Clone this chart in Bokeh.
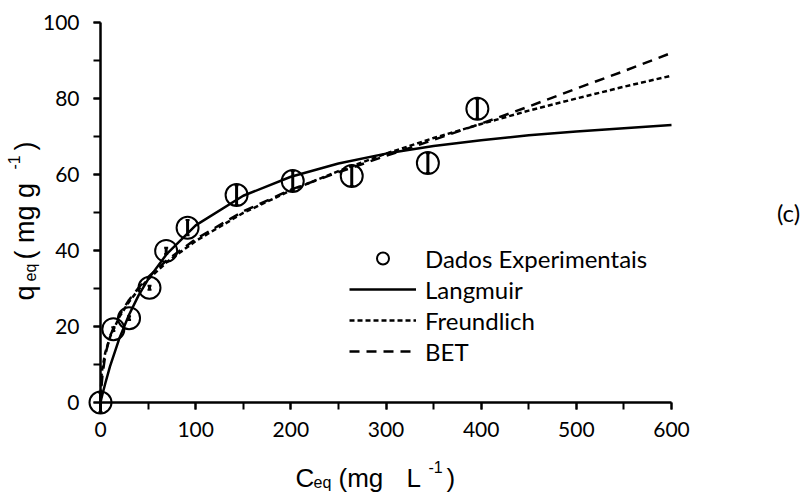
import math
from bokeh.plotting import figure
from bokeh.models import (Range1d, Legend, LegendItem, Label, Whisker, ColumnDataSource,
                          SingleIntervalTicker, TeeHead)
from bokeh.embed import file_html
from bokeh.resources import INLINE

# ---------------- data ----------------
ceq = [0, 13.5, 30, 51.5, 69, 91.5, 143, 202, 264, 344, 396]
qeq = [0, 19.3, 22.2, 30.2, 39.9, 46.0, 54.6, 58.3, 59.6, 63.0, 77.3]
qerr = [2.5, 0.5, 0.5, 0.5, 0.8, 2.0, 2.6, 2.6, 2.6, 2.6, 2.6]

curve_c = [0, 1, 2, 5, 10, 20, 30, 40, 50, 70, 100, 150, 200, 250, 300, 350, 400, 450, 500, 550, 600]
langmuir = [0, 1.1, 2.1, 5.0, 9.5, 17.0, 23.1, 28.2, 32.4, 39.2, 46.6, 54.4, 59.4, 62.9, 65.5,
            67.5, 69.0, 70.3, 71.3, 72.2, 73.0]
freundlich = [0, 7.0, 9.1, 13.1, 17.2, 22.6, 26.5, 29.7, 32.4, 37.0, 42.5, 49.9, 55.8, 60.9, 65.5,
              69.6, 73.3, 76.8, 80.0, 83.1, 86.0]
bet = [0, 4.0, 7.0, 12.5, 17.5, 23.0, 27.0, 30.2, 33.0, 37.5, 43.0, 50.3, 56.0, 60.6, 64.9,
       69.1, 73.4, 77.9, 82.6, 87.2, 92.0]

x_ticks_step = 100
y_ticks_step = 20
legend_labels = ["Dados Experimentais", "Langmuir", "Freundlich", "BET"]

# ---------------- layout ----------------
W, H = 811, 501
# where the axes' extent sits on the canvas (pixels)
AX_LEFT, AX_RIGHT, AX_TOP, AX_BOTTOM = 100, 671, 22, 402
XMIN, XMAX, YMIN, YMAX = 0, 600, 0, 100
sx = (XMAX - XMIN) / (AX_RIGHT - AX_LEFT)
sy = (YMAX - YMIN) / (AX_BOTTOM - AX_TOP)
x_range = Range1d(XMIN - AX_LEFT * sx, XMAX + (W - AX_RIGHT) * sx)
y_range = Range1d(YMIN - (H - AX_BOTTOM) * sy, YMAX + AX_TOP * sy)

TICK_FONT = "Lato"
TITLE_FONT = "Liberation Sans"

p = figure(width=W, height=H, output_backend="svg", toolbar_location=None,
           x_range=x_range, y_range=y_range,
           min_border=0, min_border_left=0, min_border_right=0,
           min_border_top=0, min_border_bottom=0)
p.outline_line_color = None
p.xgrid.visible = False
p.ygrid.visible = False
p.background_fill_color = "white"
p.border_fill_color = "white"

p.xaxis.ticker = SingleIntervalTicker(interval=x_ticks_step, num_minor_ticks=2)
p.yaxis.ticker = SingleIntervalTicker(interval=y_ticks_step, num_minor_ticks=2)
p.xaxis.fixed_location = YMIN
p.yaxis.fixed_location = XMIN
p.xaxis.bounds = (XMIN, XMAX)
p.yaxis.bounds = (YMIN, YMAX)
for ax in (p.xaxis, p.yaxis):
    ax.axis_line_width = 2.5
    ax.axis_line_color = "black"
    ax.major_tick_line_width = 2
    ax.minor_tick_line_width = 2
    ax.major_tick_line_color = "black"
    ax.minor_tick_line_color = "black"
    ax.major_tick_in = 0
    ax.major_tick_out = 7
    ax.minor_tick_in = 0
    ax.minor_tick_out = 7
    ax.major_label_text_font = TICK_FONT
    ax.major_label_text_font_size = "21px"
    ax.major_label_text_color = "black"
p.xaxis.major_label_standoff = 12
p.yaxis.major_label_standoff = 14

# ---------------- curves ----------------
csrc = ColumnDataSource(dict(c=curve_c, lang=langmuir, freu=freundlich, bet=bet))
r_lang = p.line("c", "lang", source=csrc, line_color="black", line_width=2.5)
r_freu = p.line("c", "freu", source=csrc, line_color="black", line_width=2.5, line_dash="5 3")
r_bet = p.line("c", "bet", source=csrc, line_color="black", line_width=2.5, line_dash="10 7")

# ---------------- data points with error bars ----------------
psrc = ColumnDataSource(dict(x=ceq, y=qeq,
                             lo=[a - b for a, b in zip(qeq, qerr)],
                             hi=[a + b for a, b in zip(qeq, qerr)]))
wh = Whisker(source=psrc, base="x", lower="lo", upper="hi", line_color="black", line_width=3,
             upper_head=TeeHead(size=4, line_width=2, line_color="black"),
             lower_head=TeeHead(size=4, line_width=2, line_color="black"))
p.add_layout(wh)
r_pts = p.scatter("x", "y", source=psrc, marker="circle", size=22, fill_color=None,
                  line_color="black", line_width=2)

# ---------------- legend ----------------
legend = Legend(items=[LegendItem(label=legend_labels[0], renderers=[r_pts]),
                       LegendItem(label=legend_labels[1], renderers=[r_lang]),
                       LegendItem(label=legend_labels[2], renderers=[r_freu]),
                       LegendItem(label=legend_labels[3], renderers=[r_bet])],
                location=(349, 135), orientation="vertical",
                glyph_width=67, glyph_height=30, label_height=30, spacing=1,
                label_standoff=9, padding=0, margin=0,
                label_text_font=TICK_FONT, label_text_font_size="24px",
                label_text_color="black", label_text_baseline="middle",
                border_line_color=None, background_fill_alpha=0)
p.add_layout(legend, "center")


# ---------------- axis titles (rich text via pieces, canvas pixels) ----------------
def piece(text, px, py, size, angle=0.0, font=TITLE_FONT, align="left", baseline="alphabetic"):
    p.add_layout(Label(x=px, y=py, x_units="canvas", y_units="canvas", text=text, angle=angle,
                       text_font=font, text_font_size=f"{size}px",
                       text_color="black", text_align=align, text_baseline=baseline))


# x title: C_eq (mg  L^-1)
XB = 477
piece("C", 295, XB, 26)
piece("eq", 313, XB + 5, 16)
piece("(mg", 338, XB, 26)
piece("L", 406, XB, 26)
piece("-1", 428, XB - 11, 16)
piece(")", 446, XB, 26)

# y title: q_eq ( mg g^-1)
A = math.pi / 2
YB = 24
piece("q", YB, 300, 27, A)
piece("eq", YB + 6, 281, 16, A)
piece("( mg g", YB, 259, 27, A)
piece("-1", YB - 11, 169, 16, A)
piece(")", YB, 150, 27, A)

# panel tag
piece("(c)", 788, 212, 24, 0.0, font=TICK_FONT, align="center", baseline="middle")

open("out.html", "w").write(file_html(p, INLINE))
